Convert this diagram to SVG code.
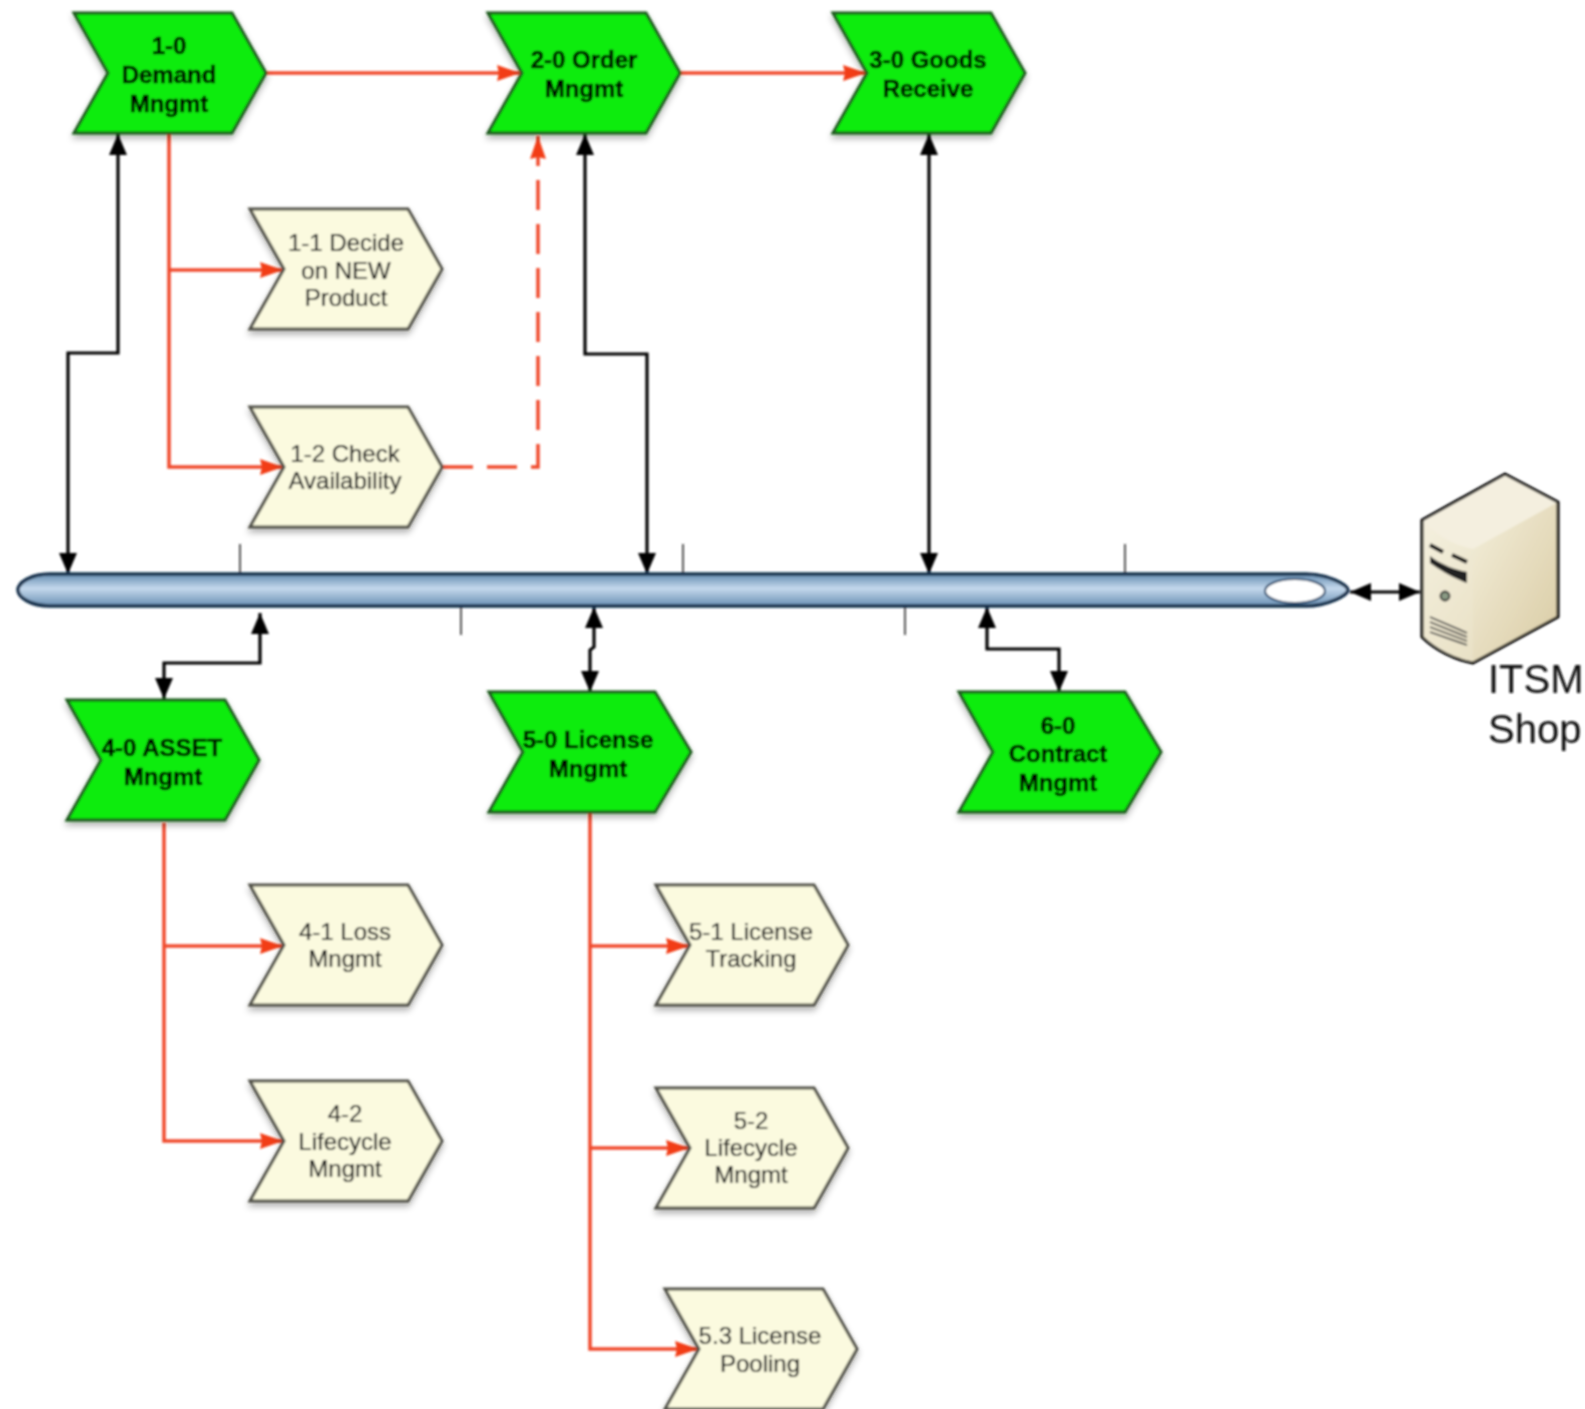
<svg xmlns="http://www.w3.org/2000/svg" width="1585" height="1409" viewBox="0 0 1585 1409">
<style>
.g{fill:#0fec10;stroke:#1c5a1c;stroke-width:3}
.y{fill:#fbfadf;stroke:#505046;stroke-width:3}
text{font-family:"Liberation Sans",Arial,sans-serif;text-anchor:middle}
.tb{font-size:24px;font-weight:700;fill:#000;stroke:#000;stroke-width:0.5}
.tr{font-size:24px;fill:#111;stroke:#111;stroke-width:0.2}
.big{font-size:40px;fill:#111;text-anchor:start}
.r{fill:none;stroke:#f0482c;stroke-width:3.5}
.k{fill:none;stroke:#000;stroke-width:3.2}
.t{fill:none;stroke:#444;stroke-width:1.8}
</style>
<defs>
<filter id="b" x="-2%" y="-2%" width="104%" height="104%"><feGaussianBlur stdDeviation="1"/></filter>
<filter id="s" x="-10%" y="-10%" width="125%" height="130%"><feDropShadow dx="0" dy="4" stdDeviation="3" flood-color="#000" flood-opacity="0.3"/></filter>
<polygon id="chev" points="0,0 158,0 192,60 158,120 0,120 34,60"/>
<polygon id="chevw" points="0,0 166,0 202,60 166,120 0,120 34,60"/>
<marker id="ak" markerUnits="userSpaceOnUse" markerWidth="24" markerHeight="20" refX="21" refY="9" orient="auto-start-reverse"><path d="M0,0L21,9L0,18Z" fill="#000"/></marker>
<marker id="ar" markerUnits="userSpaceOnUse" markerWidth="26" markerHeight="18" refX="23" refY="8" orient="auto"><path d="M0,0L23,8L0,16L2,8Z" fill="#f23c14"/></marker>
<linearGradient id="bus" x1="0" y1="0" x2="0" y2="1"><stop offset="0" stop-color="#648cb0"/><stop offset="0.45" stop-color="#c4d8ec"/><stop offset="1" stop-color="#6a90b4"/></linearGradient>
<linearGradient id="sf" x1="0" y1="0" x2="1" y2="1"><stop offset="0" stop-color="#f7f3e3"/><stop offset="1" stop-color="#e2d8b8"/></linearGradient>
<linearGradient id="ss" x1="0" y1="0" x2="1" y2="1"><stop offset="0" stop-color="#f3eeda"/><stop offset="1" stop-color="#d9cba3"/></linearGradient>
</defs>
<rect width="1585" height="1409" fill="#fff"/>
<g filter="url(#b)">
<g id="connectors">
<path class="t" d="M240,544V574M683,544V574M1125,544V574M461,606V635M905,606V635"/>
<path class="r" d="M265,73H520" marker-end="url(#ar)"/>
<path class="r" d="M680,73H866" marker-end="url(#ar)"/>
<path class="r" d="M169,134V467H283" marker-end="url(#ar)"/>
<path class="r" d="M169,270H283" marker-end="url(#ar)"/>
<path class="r" d="M443,467H538V136" stroke-dasharray="30,14" marker-end="url(#ar)"/>
<path class="r" d="M164,823V1141H283" marker-end="url(#ar)"/>
<path class="r" d="M164,946H283" marker-end="url(#ar)"/>
<path class="r" d="M590,812V1349H698" marker-end="url(#ar)"/>
<path class="r" d="M590,946H689" marker-end="url(#ar)"/>
<path class="r" d="M590,1148H689" marker-end="url(#ar)"/>
<path class="k" d="M118,134V353H68V574" marker-start="url(#ak)" marker-end="url(#ak)"/>
<path class="k" d="M585,134V354H647V574" marker-start="url(#ak)" marker-end="url(#ak)"/>
<path class="k" d="M929,134V574" marker-start="url(#ak)" marker-end="url(#ak)"/>
<path class="k" d="M260,613V663H164V699" marker-start="url(#ak)" marker-end="url(#ak)"/>
<path class="k" d="M594,607V647L590,650V692" marker-start="url(#ak)" marker-end="url(#ak)"/>
<path class="k" d="M987,607V649H1059V692" marker-start="url(#ak)" marker-end="url(#ak)"/>
<path class="k" d="M1350,592H1420" marker-start="url(#ak)" marker-end="url(#ak)"/>
</g>
<g id="bus-pipe">
<path d="M50,574H1306C1328,574 1348,585 1348,590C1348,595 1328,606 1306,606H50C30,606 18,597 18,590C18,583 30,574 50,574Z" fill="url(#bus)" stroke="#16304e" stroke-width="3.5"/>
<ellipse cx="1295" cy="591" rx="30" ry="12" fill="#fff" stroke="#2a4a6c" stroke-width="2"/>
</g>
<g id="n1-0"><use href="#chev" x="74" y="13" class="g" filter="url(#s)"/><text class="tb" x="169" y="54">1-0</text><text class="tb" x="169" y="83">Demand</text><text class="tb" x="169" y="112">Mngmt</text></g>
<g id="n2-0"><use href="#chev" x="488" y="13" class="g" filter="url(#s)"/><text class="tb" x="584" y="68">2-0 Order</text><text class="tb" x="584" y="97">Mngmt</text></g>
<g id="n3-0"><use href="#chev" x="833" y="13" class="g" filter="url(#s)"/><text class="tb" x="928" y="68">3-0 Goods</text><text class="tb" x="928" y="97">Receive</text></g>
<g id="n1-1"><use href="#chev" x="250" y="209" class="y" filter="url(#s)"/><text class="tr" x="346" y="251">1-1 Decide</text><text class="tr" x="346" y="279">on NEW</text><text class="tr" x="346" y="306">Product</text></g>
<g id="n1-2"><use href="#chev" x="250" y="407" class="y" filter="url(#s)"/><text class="tr" x="345" y="462">1-2 Check</text><text class="tr" x="345" y="489">Availability</text></g>
<g id="n4-0"><use href="#chev" x="67" y="700" class="g" filter="url(#s)"/><text class="tb" x="162" y="756">4-0 ASSET</text><text class="tb" x="163" y="785">Mngmt</text></g>
<g id="n5-0"><use href="#chevw" x="489" y="692" class="g" filter="url(#s)"/><text class="tb" x="588" y="748">5-0 License</text><text class="tb" x="588" y="777">Mngmt</text></g>
<g id="n6-0"><use href="#chevw" x="959" y="692" class="g" filter="url(#s)"/><text class="tb" x="1058" y="734">6-0</text><text class="tb" x="1058" y="762">Contract</text><text class="tb" x="1058" y="791">Mngmt</text></g>
<g id="n4-1"><use href="#chev" x="250" y="885" class="y" filter="url(#s)"/><text class="tr" x="345" y="940">4-1 Loss</text><text class="tr" x="345" y="967">Mngmt</text></g>
<g id="n4-2"><use href="#chev" x="250" y="1081" class="y" filter="url(#s)"/><text class="tr" x="345" y="1122">4-2</text><text class="tr" x="345" y="1150">Lifecycle</text><text class="tr" x="345" y="1177">Mngmt</text></g>
<g id="n5-1"><use href="#chev" x="656" y="885" class="y" filter="url(#s)"/><text class="tr" x="751" y="940">5-1 License</text><text class="tr" x="751" y="967">Tracking</text></g>
<g id="n5-2"><use href="#chev" x="656" y="1088" class="y" filter="url(#s)"/><text class="tr" x="751" y="1129">5-2</text><text class="tr" x="751" y="1156">Lifecycle</text><text class="tr" x="751" y="1183">Mngmt</text></g>
<g id="n5-3"><use href="#chev" x="665" y="1289" class="y" filter="url(#s)"/><text class="tr" x="760" y="1344">5.3 License</text><text class="tr" x="760" y="1372">Pooling</text></g>
<g id="itsm-shop">
<path d="M1505,474L1558,502V617L1473,663C1455,660 1435,650 1422,637V520Z" fill="url(#sf)"/>
<path d="M1473,549L1558,502V617L1473,663Z" fill="url(#ss)"/>
<path d="M1505,474L1558,502L1473,549C1455,546 1435,535 1422,520Z" fill="#f4efdf"/>
<path d="M1505,474L1558,502V617L1473,663C1455,660 1435,650 1422,637V520Z" fill="none" stroke="#000" stroke-width="3" stroke-linejoin="round"/>
<path d="M1430,545L1443,552M1452,555L1467,562" stroke="#111" stroke-width="4" fill="none"/>
<path d="M1430,556C1440,564 1455,570 1467,572V583C1453,578 1440,570 1430,563Z" fill="#222"/>
<circle cx="1445" cy="596" r="4.5" fill="#8a9a84" stroke="#222" stroke-width="1.8"/>
<path d="M1430,617L1467,633M1430,622L1467,637M1430,627L1467,641M1430,632L1467,645" stroke="#444" stroke-width="1.8" fill="none"/>
<text class="big" x="1488" y="693">ITSM</text><text class="big" x="1488" y="743">Shop</text>
</g>
</g>
</svg>
